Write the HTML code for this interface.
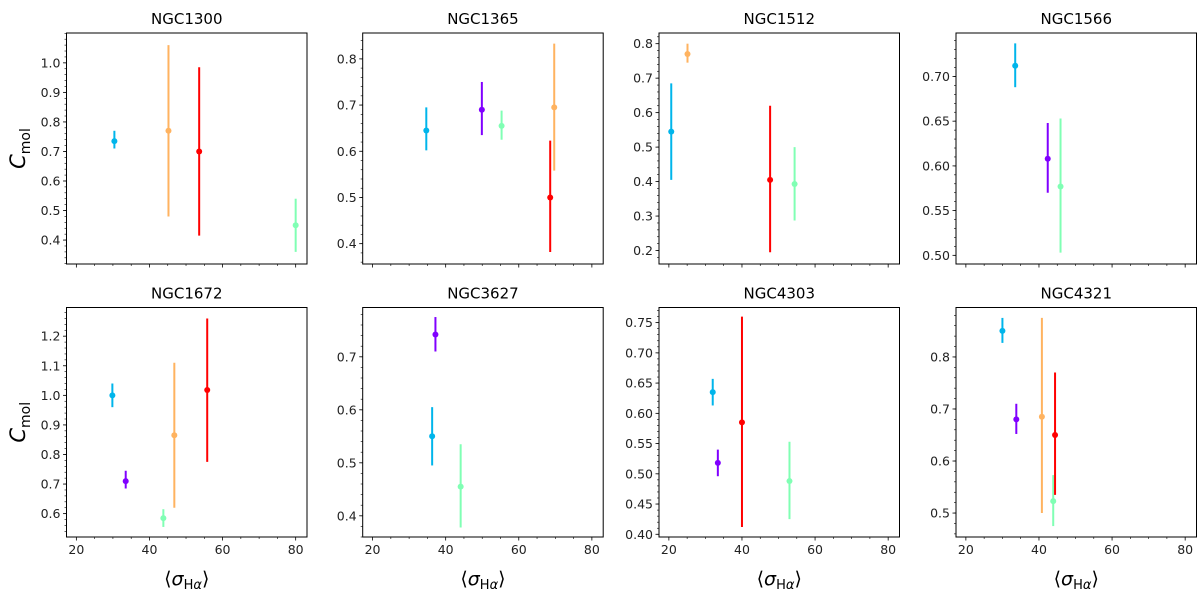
<!DOCTYPE html>
<html><head><meta charset="utf-8"><style>
html,body{margin:0;padding:0;background:#fff;}
svg{display:block;font-family:"DejaVu Sans","Liberation Sans",sans-serif;}
</style></head><body>
<svg id="chart" width="1200" height="595" viewBox="0 0 1200 595" xmlns="http://www.w3.org/2000/svg"></svg>
<script>
const galaxies = ["NGC1300","NGC1365","NGC1512","NGC1566","NGC1672","NGC3627","NGC4303","NGC4321"];
const seriesColors = ["#00b5eb","#8000ff","#80ffb4","#ffb360","#ff0000"];
// each panel: [colorIndex, sigma, cmol, errLow, errHigh]
const p1300 = [[0,30.4,0.735,0.71,0.77],[3,45.2,0.77,0.48,1.06],[4,53.6,0.70,0.415,0.985],[2,80,0.45,0.36,0.54]];
const p1365 = [[0,34.7,0.645,0.602,0.695],[1,49.9,0.69,0.635,0.75],[2,55.3,0.655,0.625,0.688],[4,68.6,0.50,0.382,0.623],[3,69.7,0.695,0.558,0.833]];
const p1512 = [[0,20.65,0.545,0.405,0.685],[3,25.1,0.77,0.745,0.80],[4,47.7,0.405,0.195,0.62],[2,54.4,0.393,0.287,0.50]];
const p1566 = [[0,33.5,0.712,0.688,0.737],[1,42.4,0.608,0.57,0.648],[2,45.9,0.577,0.503,0.653]];
const p1672 = [[0,29.85,1.0,0.96,1.04],[1,33.5,0.71,0.685,0.745],[2,43.8,0.585,0.555,0.615],[3,46.8,0.865,0.62,1.11],[4,55.8,1.018,0.775,1.26]];
const p3627 = [[1,37.2,0.742,0.71,0.775],[0,36.3,0.55,0.495,0.605],[2,44.1,0.455,0.378,0.535]];
const p4303 = [[0,32.0,0.635,0.613,0.657],[1,33.4,0.518,0.496,0.54],[4,40.0,0.585,0.412,0.76],[2,53.0,0.488,0.425,0.553]];
const p4321 = [[0,30.0,0.85,0.827,0.875],[1,33.8,0.68,0.652,0.71],[3,40.8,0.685,0.5,0.875],[2,43.9,0.523,0.475,0.573],[4,44.4,0.65,0.535,0.77]];
const panelData = [p1300,p1365,p1512,p1566,p1672,p3627,p4303,p4321];
const yLimits = [[0.319,1.101],[0.356,0.856],[0.161,0.831],[0.4903,0.7486],[0.521,1.297],[0.360,0.793],[0.3955,0.775],[0.454,0.895]];
const yMajorTicks = [[0.4,0.5,0.6,0.7,0.8,0.9,1.0],[0.4,0.5,0.6,0.7,0.8],[0.2,0.3,0.4,0.5,0.6,0.7,0.8],[0.50,0.55,0.60,0.65,0.70],[0.6,0.7,0.8,0.9,1.0,1.1,1.2],[0.4,0.5,0.6,0.7],[0.40,0.45,0.50,0.55,0.60,0.65,0.70,0.75],[0.5,0.6,0.7,0.8]];
const yTickDecimals = [1,1,1,2,1,1,2,1];
const yMinorStep = [0.02,0.02,0.02,0.01,0.02,0.02,0.01,0.02];
const xLimits = [17.3,83.1];
const xMajorTicks = [20,40,60,80];

const NS="http://www.w3.org/2000/svg";
const svg=document.getElementById('chart');
function mk(tag,attrs,parent){const e=document.createElementNS(NS,tag);for(const k in attrs)e.setAttribute(k,attrs[k]);(parent||svg).appendChild(e);return e;}
const colLeft=[66.5,362.7,659,956], pw=240.5;
const rowTop=[33,307.5], ph=[231,229.5];

for(let i=0;i<8;i++){
  const r=Math.floor(i/4), c=i%4;
  const L=colLeft[c], T=rowTop[r], W=pw, H=ph[r];
  const g=mk('g',{});
  
  
  const xs=v=>L+(v-xLimits[0])/(xLimits[1]-xLimits[0])*W;
  const [y0,y1]=yLimits[i];
  const ys=v=>T+H-(v-y0)/(y1-y0)*H;
  const t=mk('text',{x:L+W/2,y:T-9,'text-anchor':'middle','font-size':15,fill:'#000'},g);
  t.textContent=galaxies[i];
  
  
  // minor y ticks
  const nMin=Math.ceil(y0/yMinorStep[i]-1e-6), nMax=Math.floor(y1/yMinorStep[i]+1e-6);
  for(let k=nMin;k<=nMax;k++){const y=ys(k*yMinorStep[i]);mk('line',{x1:L-2,x2:L,y1:y,y2:y,stroke:'#000','stroke-width':0.6},g);}
  yMajorTicks[i].forEach(v=>{const y=ys(v);
    mk('line',{x1:L-3.5,x2:L,y1:y,y2:y,stroke:'#000','stroke-width':0.8},g);
    const lb=mk('text',{x:L-6,y:y+4.5,'text-anchor':'end','font-size':12.5,fill:'#222'},g);
    lb.textContent=v.toFixed(yTickDecimals[i]);
    
    
  });
  for(let v=20;v<=80;v+=5){const x=xs(v);const maj=v%20===0;
    mk('line',{x1:x,x2:x,y1:T+H,y2:T+H+(maj?3.5:2),stroke:'#000','stroke-width':maj?0.8:0.6},g);}
  if(r===1){xMajorTicks.forEach(v=>{const lb=mk('text',{x:xs(v),y:T+H+17,'text-anchor':'middle','font-size':12.5,fill:'#222'},g);
    lb.textContent=v;
    
    });
    const xl=mk('text',{x:L+W/2,y:585,'text-anchor':'middle','font-size':19,fill:'#000'},g);
    xl.innerHTML='⟨<tspan font-style="italic">σ</tspan><tspan font-size="13" dy="4">H<tspan font-style="italic">α</tspan></tspan><tspan dy="-4">⟩</tspan>';
    
    
  }
  if(c===0){const yl=mk('text',{transform:`translate(25,${T+H/2}) rotate(-90)`,'text-anchor':'middle','font-size':21,fill:'#000'},g);
    yl.innerHTML='<tspan font-style="italic">C</tspan><tspan font-size="14" dy="5">mol</tspan>';
    
    }
  panelData[i].forEach(d=>{const col=seriesColors[d[0]];
    const eb=mk('line',{x1:xs(d[1]),x2:xs(d[1]),y1:ys(d[3]),y2:ys(d[4]),stroke:col,'stroke-width':2},g);
    
    
    const pt=mk('circle',{cx:xs(d[1]),cy:ys(d[2]),r:3,fill:col},g);
    
    
  });
  mk('rect',{x:L,y:T,width:W,height:H,fill:'none',stroke:'#000','stroke-width':1},g);
}
</script>
</body></html>
